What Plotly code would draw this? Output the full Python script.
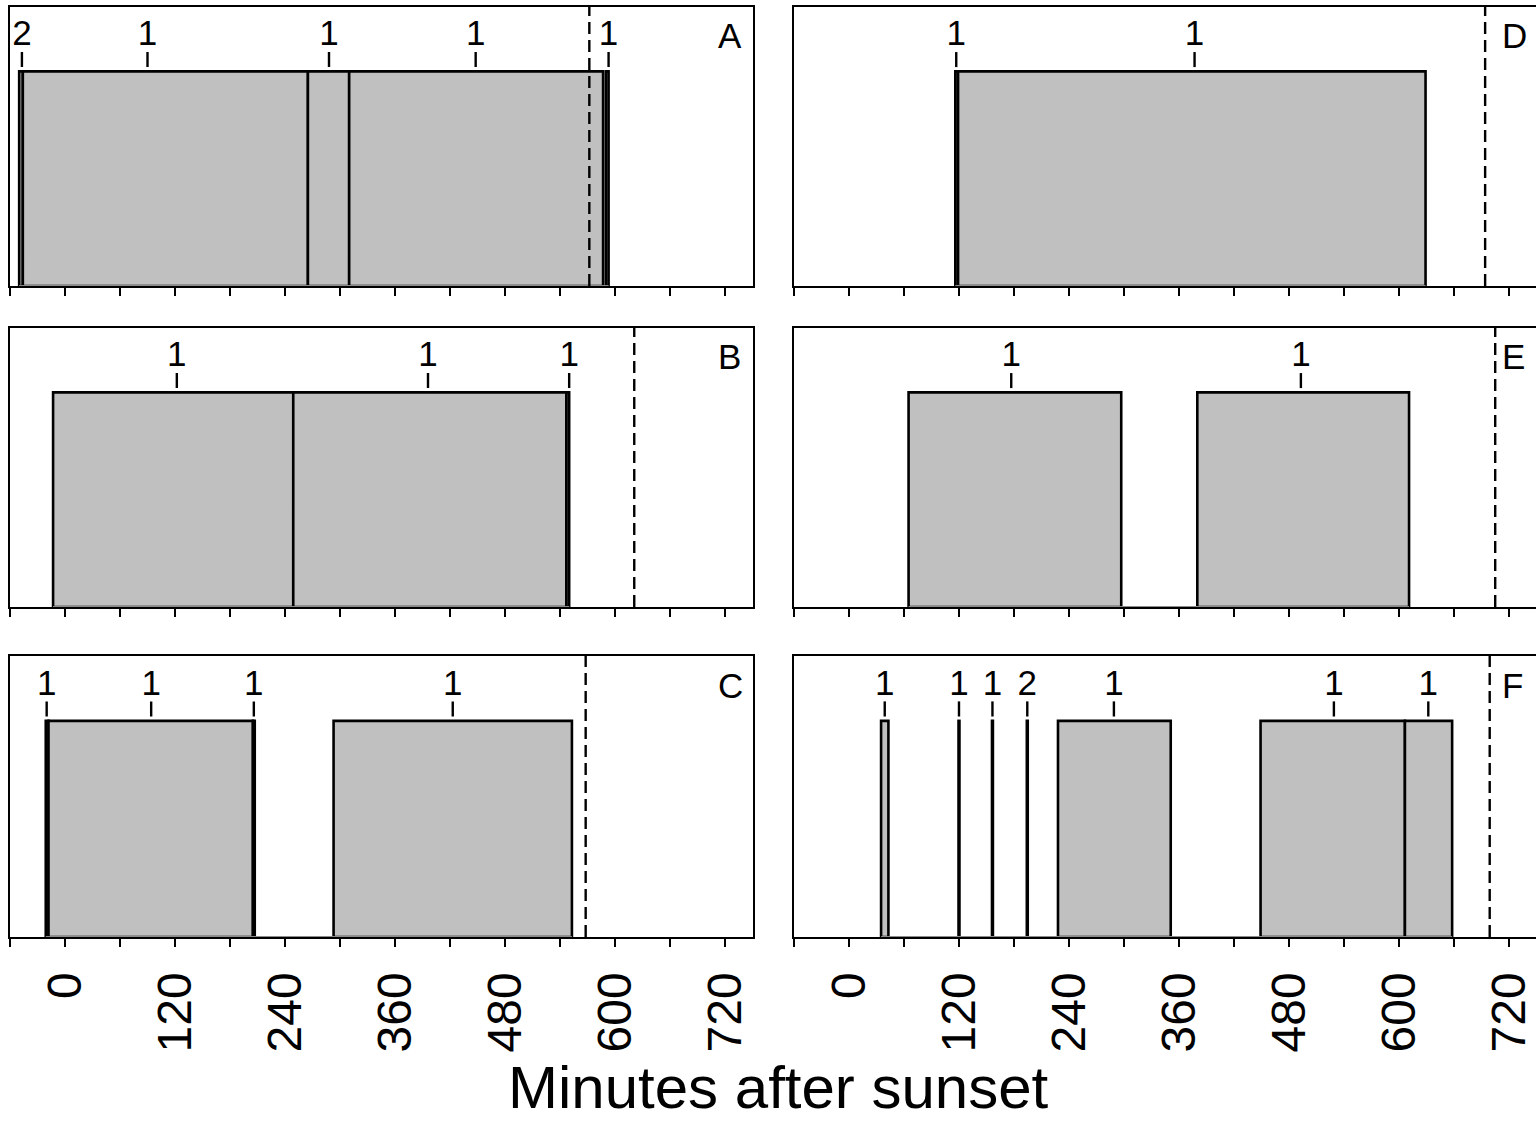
import plotly.graph_objects as go

# ---- axis settings -------------------------------------------------------
X_RANGE_LEFT = [-60, 750]
X_RANGE_RIGHT = [-60, 749.5]
TICK_VALS = [0, 120, 240, 360, 480, 600, 720]
TICK_TEXT = ["0", "120", "240", "360", "480", "600", "720"]
Y_TOP = 1.3
BAR_HEIGHT = 1.0

# ---- panel A ---------------------------------------------------------------
A_start = [-50, -46, 265, 310, 590]
A_end = [-46, 265, 310, 587, 593]
A_label_x = [-47, 90, 288, 448, 593]
A_label_text = ["2", "1", "1", "1", "1"]
A_sunrise = 572

# ---- panel B ---------------------------------------------------------------
B_start = [-13, 249, 547]
B_end = [249, 547, 550]
B_label_x = [122, 396, 550]
B_label_text = ["1", "1", "1"]
B_sunrise = 621

# ---- panel C ---------------------------------------------------------------
C_start = [-21, -18, 205, 293]
C_end = [-18, 205, 207, 553]
C_label_x = [-20, 94, 206, 423]
C_label_text = ["1", "1", "1", "1"]
C_sunrise = 568

# ---- panel D ---------------------------------------------------------------
D_start = [116, 119]
D_end = [119, 629]
D_label_x = [117, 377]
D_label_text = ["1", "1"]
D_sunrise = 694

# ---- panel E ---------------------------------------------------------------
E_start = [65, 380]
E_end = [297, 611]
E_label_x = [177, 493]
E_label_text = ["1", "1"]
E_sunrise = 705

# ---- panel F ---------------------------------------------------------------
F_start = [35, 119.5, 156, 194, 228, 449, 606.5]
F_end = [43, 120.5, 157, 195, 351, 606.5, 658]
F_label_x = [39, 120, 156.5, 194.5, 289, 529, 632]
F_label_text = ["1", "1", "1", "2", "1", "1", "1"]
F_sunrise = 699

PANEL_LETTERS = ["A", "B", "C", "D", "E", "F"]
X_TITLE = "Minutes after sunset"

FONT = "Liberation Sans Narrow, Arial Narrow, Liberation Sans, Arial, sans-serif"
W, H = 1536, 1128

panels = [
    (A_start, A_end, A_label_x, A_label_text, A_sunrise),
    (B_start, B_end, B_label_x, B_label_text, B_sunrise),
    (C_start, C_end, C_label_x, C_label_text, C_sunrise),
    (D_start, D_end, D_label_x, D_label_text, D_sunrise),
    (E_start, E_end, E_label_x, E_label_text, E_sunrise),
    (F_start, F_end, F_label_x, F_label_text, F_sunrise),
]

# pixel boxes of the two columns and three rows
col_px = [(10, 752.5), (794, W)]
row_px = [(7, 286), (328, 607), (656, 937)]

fig = go.Figure()
layout_axes = {}
annotations = []

for i, (starts, ends, lab_x, lab_t, sunrise) in enumerate(panels):
    n = i + 1
    col, row = divmod(i, 3)
    xa, ya = f"x{n}", f"y{n}"
    xkey = "xaxis" if n == 1 else f"xaxis{n}"
    ykey = "yaxis" if n == 1 else f"yaxis{n}"

    # grey baseline under the occupied span
    fig.add_trace(go.Scatter(
        x=[min(starts), max(ends)], y=[0, 0], mode="lines",
        line=dict(color="#8c8c8c", width=2), xaxis=xa, yaxis=ya,
        showlegend=False, hoverinfo="skip"))

    # occupancy bars
    centers = [(s + e) / 2 for s, e in zip(starts, ends)]
    widths = [e - s for s, e in zip(starts, ends)]
    fig.add_trace(go.Bar(
        x=centers, y=[BAR_HEIGHT] * len(starts), width=widths, base=0,
        marker=dict(color="#c0c0c0", line=dict(color="black", width=2.6)),
        xaxis=xa, yaxis=ya, showlegend=False))

    # short marker lines above each count
    wx, wy = [], []
    for x in lab_x:
        wx += [x, x, None]
        wy += [1.02, 1.09, None]
    fig.add_trace(go.Scatter(
        x=wx, y=wy, mode="lines", line=dict(color="black", width=2.4),
        xaxis=xa, yaxis=ya, showlegend=False, hoverinfo="skip"))

    # counts
    fig.add_trace(go.Scatter(
        x=lab_x, y=[1.162] * len(lab_x), mode="text", text=lab_t,
        textposition="middle center",
        textfont=dict(family=FONT, size=35, color="black"),
        xaxis=xa, yaxis=ya, showlegend=False, hoverinfo="skip"))

    # sunrise
    fig.add_trace(go.Scatter(
        x=[sunrise, sunrise], y=[0, Y_TOP], mode="lines",
        line=dict(color="black", width=2.4, dash="12px,6px"),
        xaxis=xa, yaxis=ya, showlegend=False, hoverinfo="skip"))

    x0, x1 = col_px[col]
    y0, y1 = row_px[row]
    layout_axes[xkey] = dict(
        domain=[x0 / W, x1 / W], anchor=ya,
        range=X_RANGE_LEFT if col == 0 else X_RANGE_RIGHT,
        showline=True, linecolor="black", linewidth=2.4, mirror=True,
        showgrid=False, zeroline=False, layer="below traces",
        ticks="outside", ticklen=8, tickwidth=2.4, tickcolor="black",
        tickmode="array", tickvals=TICK_VALS, ticktext=TICK_TEXT,
        showticklabels=(row == 2), tickangle=-90,
        tickfont=dict(family=FONT, size=48, color="black"),
        ticklabelstandoff=6, ticklabeloverflow="allow",
        minor=dict(ticks="outside", ticklen=8, tickwidth=2.4, tickcolor="black",
                   tick0=-60, dtick=60, showgrid=False),
    )
    layout_axes[ykey] = dict(
        domain=[(H - y1) / H, (H - y0) / H], anchor=xa,
        range=[0, Y_TOP], showline=True, linecolor="black", linewidth=2.4,
        mirror=(col == 0), showgrid=False, zeroline=False,
        showticklabels=False, ticks="", layer="below traces",
    )

    annotations.append(dict(
        x=710, y=1.165, xref=xa, yref=ya, text=PANEL_LETTERS[i],
        xanchor="left", yanchor="middle", showarrow=False,
        font=dict(family=FONT, size=35, color="black")))

annotations.append(dict(
    x=778.5 / W, y=(H - 1087) / H, xref="paper", yref="paper", text=X_TITLE,
    xanchor="center", yanchor="middle", showarrow=False,
    font=dict(family=FONT, size=60, color="black")))

fig.update_layout(
    width=W, height=H, margin=dict(l=0, r=0, t=0, b=0),
    paper_bgcolor="white", plot_bgcolor="white",
    barmode="overlay", showlegend=False, annotations=annotations,
    **layout_axes,
)

fig.write_html("out.html")
